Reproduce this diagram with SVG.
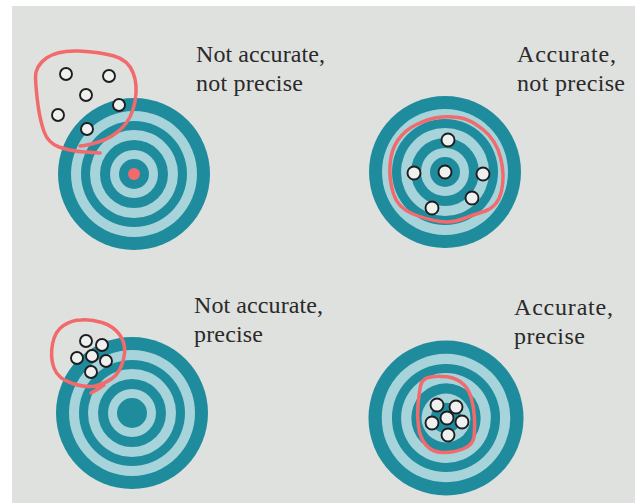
<svg xmlns="http://www.w3.org/2000/svg" width="635" height="503" viewBox="0 0 635 503">
<style>
.dark{fill:#1f8c9e}
.light{fill:#a7d4da}
.dot{fill:#eef1f0;stroke:#1e1e1e;stroke-width:1.9}
.loop{fill:none;stroke:#f26a6c;stroke-width:3.5;stroke-linecap:round;stroke-linejoin:round}
.lbl{font-family:"Liberation Serif","Times New Roman",serif;font-size:24px;fill:#2a2a2a}
</style>
<defs>
<g id="target">
<circle r="76" class="dark"/>
<circle r="63" class="light"/>
<circle r="53" class="dark"/>
<circle r="44" class="light"/>
<circle r="34" class="dark"/>
<circle r="24" class="light"/>
<circle r="15" class="dark"/>
</g>
</defs>
<rect width="635" height="503" fill="#ffffff"/>
<rect x="12" y="6" width="623" height="497" fill="#dfe1df"/>

<g id="node-not-accurate-not-precise">
<use href="#target" x="134" y="174"/>
<circle cx="134" cy="174" r="6" fill="#f26a6c"/>
<circle cx="66" cy="74" r="6" class="dot"/>
<circle cx="109" cy="76" r="6" class="dot"/>
<circle cx="86" cy="95" r="6" class="dot"/>
<circle cx="119" cy="105" r="6" class="dot"/>
<circle cx="58" cy="115" r="6" class="dot"/>
<circle cx="87" cy="129" r="6" class="dot"/>
<path class="loop" d="M100 153 L85 152 Q70 151 59 147 Q48 143 44 131.5 Q40 120 38 105 Q36 90 35.5 78 Q35 66 46.5 58 Q58 50 79 51 Q100 52 114 56 Q128 60 133 72.5 Q138 85 135 101.5 Q132 118 122 128 Q112 138 98.5 142 Q85 146 80 146"/>
<text class="lbl" x="196" y="62" textLength="129" lengthAdjust="spacing">Not accurate,</text>
<text class="lbl" x="196" y="91" textLength="107" lengthAdjust="spacing">not precise</text>
</g>

<g id="node-accurate-not-precise">
<use href="#target" x="445" y="172"/>
<circle cx="448" cy="140" r="6.5" class="dot"/>
<circle cx="414" cy="173" r="6.5" class="dot"/>
<circle cx="445" cy="172" r="6.5" class="dot"/>
<circle cx="483" cy="174" r="6.5" class="dot"/>
<circle cx="472" cy="198" r="6.5" class="dot"/>
<circle cx="432" cy="208" r="6.5" class="dot"/>
<path class="loop" d="M437.5 117.5 Q447 116 458.5 117.5 Q470 119 483 129.5 Q496 140 500.5 157.5 Q505 175 501.5 191 Q498 207 484 211.5 Q470 216 461 219.5 Q452 223 440 221.5 Q428 220 413 214 Q398 208 393.5 194 Q389 180 390 165 Q391 150 398 140 Q405 130 416.5 124.5 Q428 119 437.5 117.5 Z"/>
<text class="lbl" x="517" y="62" textLength="99" lengthAdjust="spacing">Accurate,</text>
<text class="lbl" x="517" y="91" textLength="108" lengthAdjust="spacing">not precise</text>
</g>

<g id="node-not-accurate-precise">
<use href="#target" x="132" y="413"/>
<circle cx="86" cy="341" r="6" class="dot"/>
<circle cx="102" cy="345" r="6" class="dot"/>
<circle cx="77" cy="358" r="6" class="dot"/>
<circle cx="92" cy="356" r="6" class="dot"/>
<circle cx="106" cy="361" r="6" class="dot"/>
<circle cx="91" cy="372" r="6" class="dot"/>
<path class="loop" d="M81 320 Q90 319 102 322.5 Q114 326 120.5 336 Q127 346 123.5 359.5 Q120 373 112 378.5 Q104 384 95.5 386 Q87 388 72.5 383.5 Q58 379 54 368 Q50 357 52.5 344 Q55 331 63.5 325.5 Q72 320 81 320 Z"/>
<path class="loop" d="M104 385 Q97 390 91 393"/>
<text class="lbl" x="194" y="313" textLength="129" lengthAdjust="spacing">Not accurate,</text>
<text class="lbl" x="194" y="342" textLength="69" lengthAdjust="spacing">precise</text>
</g>

<g id="node-accurate-precise">
<g transform="translate(446 418) scale(1.02)"><use href="#target"/></g>
<circle cx="437" cy="405" r="6.5" class="dot"/>
<circle cx="456" cy="407" r="6.5" class="dot"/>
<circle cx="447" cy="418" r="6.5" class="dot"/>
<circle cx="432" cy="423" r="6.5" class="dot"/>
<circle cx="462" cy="422" r="6.5" class="dot"/>
<circle cx="448" cy="435" r="6.5" class="dot"/>
<path class="loop" d="M440 376.5 Q452 376 460 381.5 Q468 387 471 397 Q474 407 474.5 418 Q475 429 474 437 Q473 445 463 449 Q453 453 442.5 452.5 Q432 452 426 445 Q420 438 418.5 427 Q417 416 418 405 Q419 394 420.5 386 Q422 378 431 377 Q440 376 440 376.5 Z"/>
<text class="lbl" x="514" y="315" textLength="99" lengthAdjust="spacing">Accurate,</text>
<text class="lbl" x="514" y="344" textLength="71" lengthAdjust="spacing">precise</text>
</g>

<g id="connectors"></g>
</svg>
